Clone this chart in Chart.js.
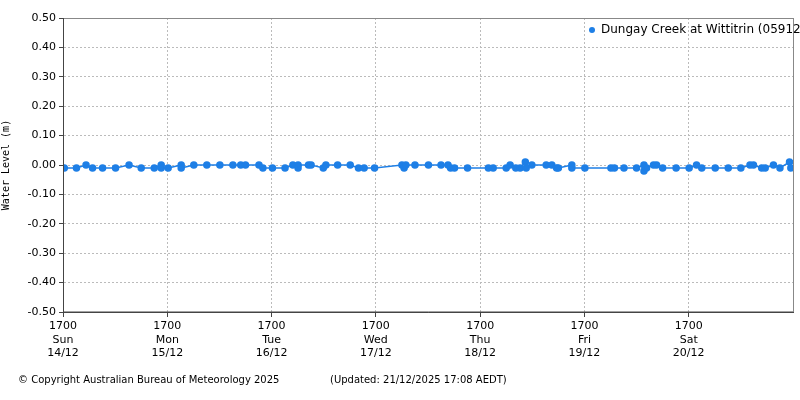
<!DOCTYPE html>
<html><head><meta charset="utf-8">
<script src="https://cdn.jsdelivr.net/npm/chart.js@4"></script>
<style>body{margin:0;background:#fff}</style>
</head><body><canvas id="c" width="800" height="400" style="width:800px;height:400px"></canvas>
<script>
const hours=[0.3,3.1,5.3,6.8,9.1,12.1,15.2,18.0,21.0,22.6,22.6,24.2,27.2,27.2,30.1,33.1,36.1,39.1,40.9,42.0,45.1,46.0,48.2,51.1,52.9,54.1,54.1,56.5,57.1,59.9,60.5,63.2,66.1,68.0,69.3,71.7,78.0,78.5,78.9,81.0,
84.1,87.0,88.6,89.2,90.1,93.1,97.9,99.0,102.0,102.9,104.2,105.2,106.4,106.6,107.9,111.2,112.5,113.6,114.0,117.1,117.1,120.1,126.1,126.9,129.1,132.0,133.7,133.7,134.3,135.9,136.6,138.0,141.1,144.1,145.8,147.0,150.1,153.1,156.0,158.1,158.9,160.8,161.6,163.5,165.0,167.2,167.5];
const levels=[-0.01,-0.01,0,-0.01,-0.01,-0.01,0,-0.01,-0.01,0,-0.01,-0.01,0,-0.01,0,0,0,0,0,0,0,-0.01,-0.01,-0.01,0,-0.01,0,0,0,-0.01,0,0,0,-0.01,-0.01,-0.01,0,-0.01,0,0,
0,0,0,-0.01,-0.01,-0.01,-0.01,-0.01,-0.01,0,-0.01,-0.01,0.01,-0.01,0,0,0,-0.01,-0.01,0,-0.01,-0.01,-0.01,-0.01,-0.01,-0.01,0,-0.02,-0.01,0,0,-0.01,-0.01,-0.01,0,-0.01,-0.01,-0.01,-0.01,0,0,-0.01,-0.01,0,-0.01,0.01,-0.01];
const dayNames=['Sun','Mon','Tue','Wed','Thu','Fri','Sat'];
const dates=['14/12','15/12','16/12','17/12','18/12','19/12','20/12'];
const seriesName='Dungay Creek at Wittitrin (059125)';
const F='"DejaVu Sans", Verdana, sans-serif';
const extra={id:'extra',afterDraw(ch){const c=ch.ctx,a=ch.chartArea;c.save();
c.strokeStyle='#888';c.lineWidth=1;c.beginPath();c.moveTo(a.right+0.5,a.top);c.lineTo(a.right+0.5,a.bottom);c.moveTo(a.left,a.top+0.5);c.lineTo(a.right,a.top+0.5);c.stroke();
c.strokeStyle='#444';c.beginPath();c.moveTo(a.left+0.5,a.top);c.lineTo(a.left+0.5,a.bottom);c.lineTo(a.right,a.bottom);c.stroke();
c.fillStyle='#1E7FE6';c.beginPath();c.arc(592,30,3,0,Math.PI*2);c.fill();
c.fillStyle='#000';c.font='12px '+F;c.textBaseline='middle';c.fillText(seriesName,601,30);
c.font='10px '+F;c.fillText('© Copyright Australian Bureau of Meteorology 2025',18,380);
c.fillText('(Updated: 21/12/2025 17:08 AEDT)',330,380);c.restore();}};
new Chart(document.getElementById('c'),{type:'line',
data:{datasets:[{data:hours.map((h,i)=>({x:h,y:levels[i]})),borderColor:'#1E7FE6',backgroundColor:'#1E7FE6',borderWidth:1.5,pointRadius:3,pointHoverRadius:3,tension:0}]},
options:{responsive:false,animation:false,devicePixelRatio:1,layout:{padding:{top:18,right:7}},
plugins:{legend:{display:false},tooltip:{enabled:false}},
scales:{
x:{type:'linear',min:0,max:168,afterBuildTicks(s){s.ticks=[0,24,48,72,96,120,144].map(v=>({value:v}));},
afterFit(s){s.height=88;},
ticks:{maxRotation:0,autoSkip:false,color:'#000',font:{family:F,size:11},padding:3,callback(v){const i=Math.round(v/24);return ['1700',dayNames[i],dates[i]];}},
grid:{color:'#bbb',tickLength:5,tickColor:'#444'},border:{color:'#444',dash:[2,2]}},
y:{min:-0.5,max:0.5,afterFit(s){s.width=63;},
afterBuildTicks(s){const t=[];for(let i=-5;i<=5;i++)t.push({value:i/10});s.ticks=t;},
ticks:{color:'#000',font:{family:F,size:11},callback:v=>(Math.abs(v)<1e-9?0:v).toFixed(2)},
grid:{color:'#bbb',tickLength:4,tickColor:'#444'},border:{color:'#444',dash:[2,2]},
title:{display:true,text:'Water Level (m)',font:{family:'"DejaVu Sans Mono", monospace',size:10},color:'#000',padding:0}}}},
plugins:[extra]});
</script></body></html>
